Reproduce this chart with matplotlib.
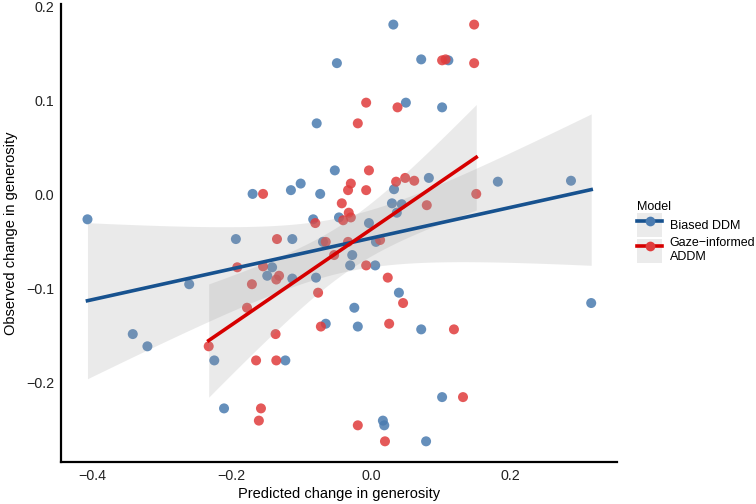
import matplotlib.pyplot as plt
import numpy as np
from matplotlib.lines import Line2D
from matplotlib.patches import Patch

plt.rcParams['font.family'] = ['Liberation Sans', 'DejaVu Sans']

# Biased DDM points (predicted, observed)
ddm_x = [-0.407, -0.049, -0.078, -0.052, -0.170, -0.115, -0.101, -0.073, -0.083, -0.194,
         -0.113, -0.046, -0.003, -0.069, -0.027, 0.007, 0.032, 0.072, 0.111, 0.050,
         0.102, 0.083, 0.182, 0.287, 0.033, 0.030, 0.044, 0.037, -0.142, -0.149,
         -0.261, -0.113, -0.079, -0.030, 0.006, -0.065, -0.024, -0.019, -0.342, -0.321,
         -0.225, -0.123, -0.211, 0.040, 0.072, 0.316, 0.102, 0.017, 0.019, 0.079]
ddm_y = [-0.026, 0.140, 0.076, 0.026, 0.001, 0.005, 0.012, 0.001, -0.026, -0.047,
         -0.047, -0.024, -0.030, -0.050, -0.064, -0.050, 0.181, 0.144, 0.143, 0.098,
         0.093, 0.018, 0.014, 0.015, 0.006, -0.009, -0.010, -0.019, -0.077, -0.086,
         -0.095, -0.089, -0.088, -0.075, -0.075, -0.137, -0.120, -0.140, -0.148, -0.161,
         -0.176, -0.176, -0.227, -0.104, -0.143, -0.115, -0.215, -0.240, -0.245, -0.262]

# Gaze-informed ADDM points
addm_x = [-0.155, -0.007, -0.019, -0.003, -0.029, -0.033, -0.007, -0.042, -0.032, -0.040,
          -0.029, -0.080, -0.135, -0.065, -0.033, 0.148, 0.148, 0.102, 0.107, 0.038,
          0.036, 0.049, 0.062, 0.151, 0.080, 0.013, -0.053, -0.192, -0.155, -0.132,
          -0.136, -0.171, -0.007, -0.076, -0.178, -0.072, -0.137, -0.233, -0.165, -0.136,
          -0.158, -0.161, -0.019, 0.024, 0.046, 0.026, 0.119, 0.132, 0.020]
addm_y = [0.001, 0.098, 0.076, 0.026, 0.012, 0.005, 0.005, -0.009, -0.019, -0.027,
          -0.024, -0.030, -0.047, -0.050, -0.050, 0.181, 0.140, 0.143, 0.144, 0.093,
          0.014, 0.018, 0.015, 0.001, -0.011, -0.048, -0.064, -0.077, -0.076, -0.086,
          -0.090, -0.095, -0.075, -0.104, -0.120, -0.140, -0.148, -0.161, -0.176, -0.176,
          -0.227, -0.240, -0.245, -0.088, -0.115, -0.137, -0.143, -0.215, -0.262]

models = ["Biased DDM", "Gaze\u2212informed\nADDM"]
point_colors = ["#4a7bb0", "#e03c3c"]
line_colors = ["#17528f", "#d60000"]


def lm_band(x, y):
    # linear fit with 95% confidence band, like geom_smooth(method="lm")
    x = np.array(x)
    y = np.array(y)
    n = len(x)
    b, a = np.polyfit(x, y, 1)
    xs = np.linspace(x.min(), x.max(), 100)
    ys = a + b * xs
    resid = y - (a + b * x)
    s = np.sqrt(np.sum(resid ** 2) / (n - 2))
    sxx = np.sum((x - x.mean()) ** 2)
    se = s * np.sqrt(1.0 / n + (xs - x.mean()) ** 2 / sxx)
    t = 2.011
    return xs, ys, ys - t * se, ys + t * se


fig = plt.figure(figsize=(7.56, 5.04), dpi=100)
ax = fig.add_axes([0.0807, 0.0833, 0.7354, 0.909])

data = [(ddm_x, ddm_y), (addm_x, addm_y)]
for (x, y), pc in zip(data, point_colors):
    ax.scatter(x, y, s=52, color=pc, alpha=0.85, edgecolors='none', zorder=2)

for (x, y), lc in zip(data, line_colors):
    xs, ys, lo, hi = lm_band(x, y)
    ax.fill_between(xs, lo, hi, color='#999999', alpha=0.2, linewidth=0, zorder=3)
    ax.plot(xs, ys, color=lc, linewidth=2.6, zorder=4)

ax.set_xlim(-0.445, 0.353)
ax.set_ylim(-0.284, 0.203)
ax.set_xticks([-0.4, -0.2, 0.0, 0.2])
ax.set_yticks([-0.2, -0.1, 0.0, 0.1, 0.2])
ax.set_xticklabels(["\u22120.4", "\u22120.2", "0.0", "0.2"])
ax.set_yticklabels(["\u22120.2", "\u22120.1", "0.0", "0.1", "0.2"])
ax.tick_params(length=0, labelsize=10.3, pad=5, colors='#222222')
for side in ['top', 'right']:
    ax.spines[side].set_visible(False)
for side in ['left', 'bottom']:
    ax.spines[side].set_linewidth(1.6)
ax.set_xlabel("Predicted change in generosity", fontsize=10.5, labelpad=3)
ax.set_ylabel("Observed change in generosity", fontsize=10.5, labelpad=6)

handles = []
for pc, lc in zip(point_colors, line_colors):
    bg = Patch(facecolor='#ebebeb', edgecolor='none')
    ln = Line2D([], [], color=lc, linewidth=2.6, marker='o', markersize=7,
                markerfacecolor=pc, markeredgecolor='none')
    handles.append((bg, ln))
fig.legend(handles, models, title="Model", loc='center left',
           bbox_to_anchor=(0.843, 0.54), frameon=False, fontsize=9.0,
           title_fontsize=9.0, handlelength=2.0, handleheight=2.6,
           handletextpad=0.6, labelspacing=0.0, alignment='left',
           borderaxespad=0.0, borderpad=0.0)

fig.savefig("out.png", dpi=100)
